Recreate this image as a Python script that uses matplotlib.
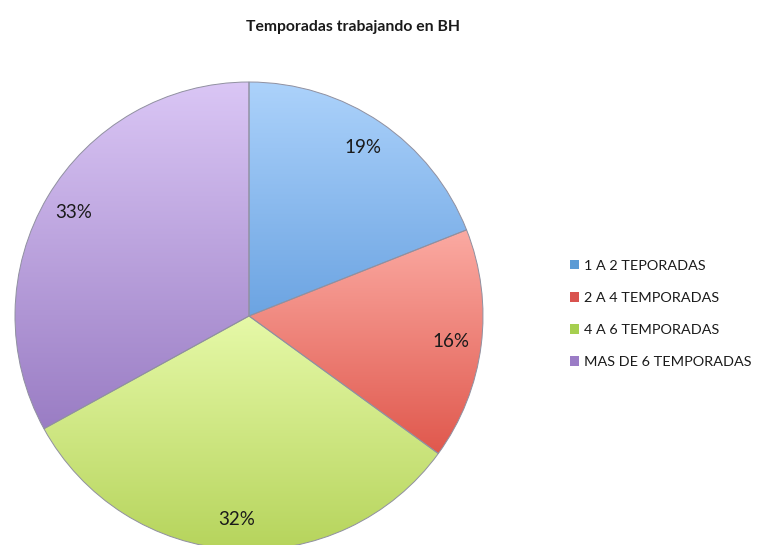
import matplotlib.pyplot as plt
import numpy as np
from matplotlib.colors import LinearSegmentedColormap
from matplotlib.patches import Patch

plt.rcParams['font.family'] = ['Lato', 'DejaVu Sans']

labels = ['1 A 2 TEPORADAS', '2 A 4 TEMPORADAS', '4 A 6 TEMPORADAS', 'MAS DE 6 TEMPORADAS']
values = [19, 16, 32, 33]
# light (top) and dark (bottom) shade of each slice
tops = ['#acd2fb', '#fbaaa2', '#e6f9a8', '#dac6f5']
bottoms = ['#6ca4e2', '#e0584d', '#b6d45c', '#9a7dc4']
swatches = ['#5b9bd5', '#d9534f', '#a6cf4f', '#9b7cc6']

fig = plt.figure(figsize=(7.57, 5.45), dpi=100)
ax = fig.add_axes([0, 0, 1, 1])

cx, cy, r = 249, 545 - 316, 234
wedges, _, autotexts = ax.pie(values, startangle=90, counterclock=False,
                              center=(cx, cy), radius=r, frame=True,
                              autopct='%1.0f%%', pctdistance=0.87,
                              wedgeprops=dict(linewidth=0.7, edgecolor='#9090a0'),
                              textprops=dict(fontsize=13.5, color='#1a1a1a'))
ax.set_xlim(0, 757)
ax.set_ylim(0, 545)
ax.axis('off')

# vertical gradient inside each slice
for w, t, b in zip(wedges, tops, bottoms):
    w.set_facecolor('none')
    ext = w.get_path().get_extents(w.get_transform())
    inv = ax.transData.inverted()
    (x0, y0), (x1, y1) = inv.transform([[ext.x0, ext.y0], [ext.x1, ext.y1]])
    cmap = LinearSegmentedColormap.from_list('g', [b, t])
    grad = np.linspace(0, 1, 256).reshape(-1, 1)
    im = ax.imshow(grad, cmap=cmap, origin='lower', extent=(x0, x1, y0, y1),
                   aspect='auto', zorder=w.get_zorder() - 0.1, interpolation='bilinear')
    im.set_clip_path(w)

for t in autotexts:
    t.set_zorder(5)

ax.text(353, 545 - 27, 'Temporadas trabajando en BH', ha='center', va='center',
        fontsize=11.3, fontweight='bold', color='#1a1a1a')

handles = [Patch(facecolor=c, edgecolor='none') for c in swatches]
ax.legend(handles, labels, loc='center left', bbox_to_anchor=(557 / 757, 1 - 314 / 545),
          frameon=False, fontsize=10.4, handlelength=0.65, handleheight=0.65,
          handletextpad=0.3, labelspacing=1.4, labelcolor='#1a1a1a')

fig.savefig('out.png', dpi=100)
